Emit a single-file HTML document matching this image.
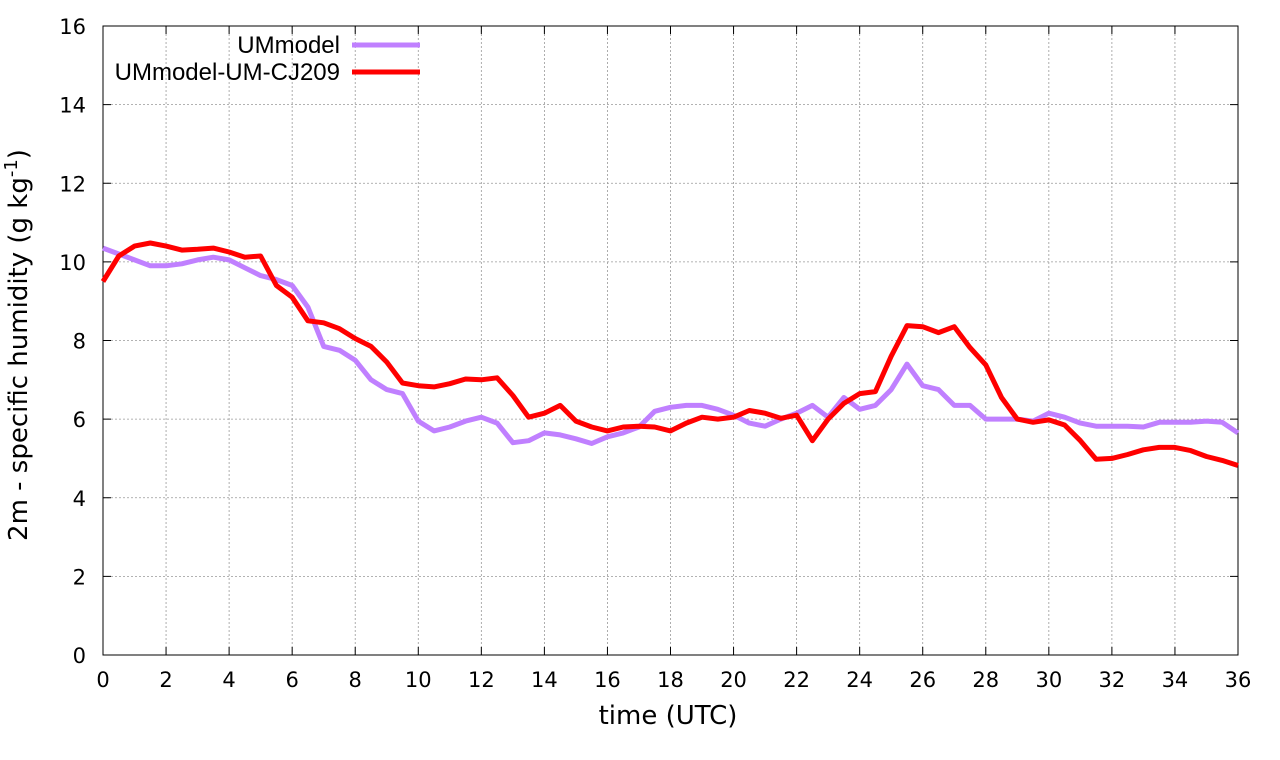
<!DOCTYPE html>
<html><head><meta charset="utf-8"><style>
body{margin:0;background:#fff;}
svg{display:block;font-family:"DejaVu Sans","Liberation Sans",sans-serif;}
</style></head><body>
<svg id="chart" width="1280" height="760"></svg>
<script>
const xTicks=[0,2,4,6,8,10,12,14,16,18,20,22,24,26,28,30,32,34,36];
const yTicks=[0,2,4,6,8,10,12,14,16];
const seriesNames=["UMmodel","UMmodel-UM-CJ209"];
const umValues=[10.35,10.2,10.05,9.9,9.9,9.95,10.05,10.12,10.05,9.85,9.65,9.55,9.4,8.85,7.85,7.75,7.5,7.0,6.75,6.65,5.95,5.7,5.8,5.95,6.05,5.9,5.4,5.45,5.65,5.6,5.5,5.38,5.55,5.65,5.8,6.2,6.3,6.35,6.35,6.25,6.1,5.9,5.82,6.0,6.15,6.35,6.05,6.55,6.25,6.35,6.75,7.4,6.85,6.75,6.35,6.35,6.0,6.0,6.0,5.95,6.15,6.05,5.9,5.82,5.82,5.82,5.8,5.92,5.92,5.92,5.95,5.92,5.65];
const cjValues=[9.5,10.15,10.4,10.48,10.4,10.3,10.32,10.35,10.25,10.12,10.15,9.4,9.1,8.5,8.45,8.3,8.05,7.85,7.45,6.92,6.85,6.82,6.9,7.02,7.0,7.05,6.6,6.05,6.15,6.35,5.95,5.8,5.7,5.8,5.82,5.8,5.7,5.9,6.05,6.0,6.05,6.22,6.15,6.02,6.1,5.45,6.0,6.4,6.65,6.7,7.6,8.38,8.35,8.2,8.35,7.82,7.38,6.55,6.0,5.92,5.98,5.85,5.45,4.98,5.0,5.1,5.22,5.28,5.28,5.2,5.05,4.95,4.82];
const timeStep=0.5;

const NS="http://www.w3.org/2000/svg";
const svg=document.getElementById('chart');
const L=103,R=1238,T=26,B=655;
const xs=v=>L+(v/36)*(R-L);
const ys=v=>B-(v/16)*(B-T);
function mk(tag,attrs,parent){const e=document.createElementNS(NS,tag);for(const k in attrs)e.setAttribute(k,attrs[k]);(parent||svg).appendChild(e);return e;}

xTicks.forEach(t=>{
  const g=mk('line',{x1:xs(t),x2:xs(t),y1:T,y2:B,stroke:'#999','stroke-dasharray':'2,2','stroke-width':0.8});
  
  
  const tk=mk('line',{x1:xs(t),x2:xs(t),y1:B,y2:B-8,stroke:'#000'});
  
  
  mk('line',{x1:xs(t),x2:xs(t),y1:T,y2:T+8,stroke:'#000'});
  const tx=mk('text',{x:xs(t),y:B+32,'text-anchor':'middle','font-size':21});
  tx.textContent=t;
  
  
});
yTicks.forEach(t=>{
  const g=mk('line',{x1:L,x2:R,y1:ys(t),y2:ys(t),stroke:'#999','stroke-dasharray':'2,2','stroke-width':0.8});
  
  
  mk('line',{x1:L,x2:L+8,y1:ys(t),y2:ys(t),stroke:'#000'});
  mk('line',{x1:R,x2:R-8,y1:ys(t),y2:ys(t),stroke:'#000'});
  const tx=mk('text',{x:L-17,y:ys(t)+8,'text-anchor':'end','font-size':21});
  tx.textContent=t;
  
  
});
const frame=mk('rect',{x:L,y:T,width:R-L,height:B-T,fill:'none',stroke:'#000','stroke-width':1});



const colors=['#c080ff','#ff0000'];
[umValues,cjValues].forEach((vals,i)=>{
  const d=vals.map((v,j)=>(j?'L':'M')+xs(j*timeStep).toFixed(1)+','+ys(v).toFixed(1)).join(' ');
  const p=mk('path',{d:d,fill:'none',stroke:colors[i],'stroke-width':5,'stroke-linejoin':'round'});
  
  
});

seriesNames.forEach((n,i)=>{
  const y=45+i*27;
  const t=mk('text',{x:340,y:y+8,'text-anchor':'end','font-size':24,'font-family':'Liberation Sans, sans-serif'});
  t.textContent=n;
  
  
  const l=mk('line',{x1:352,x2:420,y1:y,y2:y,stroke:colors[i],'stroke-width':5});
  
  
});

const xt=mk('text',{x:668,y:724,'text-anchor':'middle','font-size':26});
xt.textContent='time (UTC)';


const yt=mk('text',{x:0,y:0,'text-anchor':'middle','font-size':26,transform:'translate(27,345) rotate(-90)'});
yt.innerHTML='2m - specific humidity (g kg<tspan dy="-10" font-size="18">-1</tspan><tspan dy="10">)</tspan>';


</script>
</body></html>
